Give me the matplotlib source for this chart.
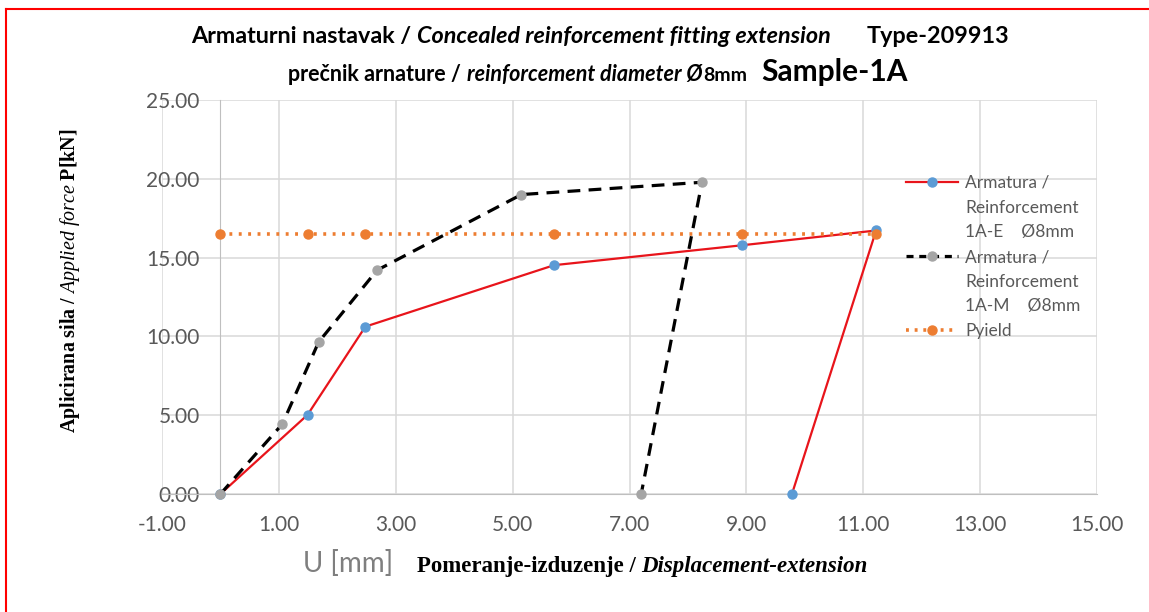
import matplotlib

matplotlib.use("Agg")
import matplotlib.pyplot as plt
import numpy as np
from matplotlib.lines import Line2D
from matplotlib.ticker import FormatStrFormatter

# podaci ocitani sa grafika
u_1ae = [0.0, 1.49, 2.48, 5.71, 8.92, 11.22, 9.78]
p_1ae = [0.0, 5.02, 10.62, 14.52, 15.78, 16.72, 0.0]

u_1am = [0.0, 1.06, 1.68, 2.68, 5.15, 8.24, 7.2]
p_1am = [0.0, 4.44, 9.64, 14.2, 19.0, 19.78, 0.0]

u_yield = [0.0, 1.49, 2.48, 5.71, 8.92, 11.22]
p_yield = [16.5, 16.5, 16.5, 16.5, 16.5, 16.5]

x_ticks = np.arange(-1, 16, 2)
y_ticks = np.arange(0, 26, 5)

RED = "#E8141B"
BLUE = "#5B9BD5"
GREY_MK = "#A5A5A5"
ORANGE = "#ED7D31"
GRID = "#D9D9D9"
TXT = "#595959"

W, H = 1149, 612

plt.rcParams["font.family"] = ["Lato", "DejaVu Sans"]
plt.rcParams["mathtext.fontset"] = "custom"
plt.rcParams["mathtext.rm"] = "Liberation Serif"
plt.rcParams["mathtext.bf"] = "Liberation Serif:bold"
plt.rcParams["mathtext.it"] = "Liberation Serif:italic"

fig = plt.figure(figsize=(W / 100, H / 100), dpi=100)
ax = fig.add_axes([162 / W, 1 - 494 / H, (1097 - 162) / W, (494 - 100) / H])

ax.plot(u_1ae, p_1ae, color=RED, lw=1.6, marker="o", ms=6.5,
        mfc=BLUE, mec=BLUE, zorder=3, clip_on=False)
ax.plot(u_1am, p_1am, color="black", lw=2.3, ls=(0, (4, 2.6)), marker="o", ms=6.5,
        mfc=GREY_MK, mec=GREY_MK, zorder=3, clip_on=False)
ax.plot(u_yield, p_yield, color=ORANGE, lw=2.6, ls=(0, (0.8, 1.8)), marker="o", ms=6.5,
        mfc=ORANGE, mec=ORANGE, zorder=4, clip_on=False)

ax.set_xlim(-1, 15)
ax.set_ylim(0, 25)
ax.set_xticks(x_ticks)
ax.set_yticks(y_ticks)
ax.xaxis.set_major_formatter(FormatStrFormatter("%.2f"))
ax.yaxis.set_major_formatter(FormatStrFormatter("%.2f"))
ax.grid(True, color=GRID, lw=1.1, zorder=0)
ax.set_axisbelow(True)

for side in ("top", "right"):
    ax.spines[side].set_visible(False)
ax.spines["left"].set_position(("data", 0))
ax.spines["left"].set_color("#BFBFBF")
ax.spines["bottom"].set_color("#BFBFBF")
ax.tick_params(axis="both", length=0, labelsize=15, labelcolor=TXT)
ax.tick_params(axis="y", pad=15)
ax.tick_params(axis="x", pad=15)

# legenda u stilu Excel-a: marker uz prvi red natpisa
h_red = Line2D([], [], color=RED, lw=1.6, marker="o", ms=6.5, mfc=BLUE, mec=BLUE)
h_blk = Line2D([], [], color="black", lw=2.3, ls=(0, (2.2, 1.8)), marker="o", ms=6.5,
               mfc=GREY_MK, mec=GREY_MK)
h_org = Line2D([], [], color=ORANGE, lw=2.6, ls=(0, (0.8, 1.6)), marker="o", ms=6.5,
               mfc=ORANGE, mec=ORANGE)
h_none = Line2D([], [], color="none")
handles = [h_red, h_none, h_none, h_blk, h_none, h_none, h_org]
labels = ["Armatura /", "Reinforcement", "1A-E    Ø8mm",
          "Armatura /", "Reinforcement", "1A-M    Ø8mm", "Pyield"]
leg = fig.legend(handles, labels, loc="upper left",
                 bbox_to_anchor=(906 / W, 1 - 175 / H), bbox_transform=fig.transFigure,
                 frameon=False, fontsize=12.5, labelspacing=0.5, handlelength=3.0,
                 handletextpad=0.4, borderpad=0, borderaxespad=0)
for t in leg.get_texts():
    t.set_color(TXT)


def draw_pieces(pieces, xc, y_base):
    """Niz tekstova razlicitog stila jedan za drugim, centriran oko xc (px)."""
    renderer = fig.canvas.get_renderer()
    items = []
    for text, gap, kw in pieces:
        t = fig.text(0, 1 - y_base / H, text, ha="left", va="baseline", **kw)
        w = t.get_window_extent(renderer).width
        items.append((t, gap, w))
    total = sum(g + w for _, g, w in items)
    x = xc - total / 2
    for t, gap, w in items:
        x += gap
        t.set_x(x / W)
        x += w


title_kw = dict(fontweight="bold", color="black")
draw_pieces([
    ("Armaturni nastavak /", 0, dict(fontsize=16.8, **title_kw)),
    ("Concealed reinforcement fitting extension", 6, dict(fontsize=16.8, style="italic", **title_kw)),
    ("Type-209913", 36, dict(fontsize=16.8, **title_kw)),
], 600, 43)

draw_pieces([
    ("prečnik arnature /", 0, dict(fontsize=15.5, **title_kw)),
    ("reinforcement diameter Ø", 6, dict(fontsize=15.5, style="italic", **title_kw)),
    ("8mm", 0, dict(fontsize=14, **title_kw)),
    ("Sample-1A", 14, dict(fontsize=21.5, **title_kw)),
], 598, 81)

draw_pieces([
    ("U [mm]", 0, dict(fontsize=20, color="#7F7F7F")),
    ("Pomeranje-izduzenje /", 24, dict(fontsize=16.5, family="Liberation Serif",
                                      fontweight="bold", color="black")),
    ("Displacement-extension", 5, dict(fontsize=16.5, family="Liberation Serif",
                                       fontweight="bold", style="italic", color="black")),
], 585, 572)

fig.text(70 / W, 1 - 281 / H,
         r"$\mathbf{Aplicirana\ sila\ /\ }\mathit{Applied\ force}\ \mathbf{P[kN]}$",
         rotation=90, ha="center", va="center", fontsize=14.4, color="black")

# crveni okvir oko slike
fig.add_artist(Line2D([6 / W, 6 / W], [0, 1 - 9 / H], color="red", lw=1.5,
                      transform=fig.transFigure))
fig.add_artist(Line2D([6 / W, 1], [1 - 9 / H, 1 - 9 / H], color="red", lw=1.5,
                      transform=fig.transFigure))

fig.savefig("out.png", dpi=100)
